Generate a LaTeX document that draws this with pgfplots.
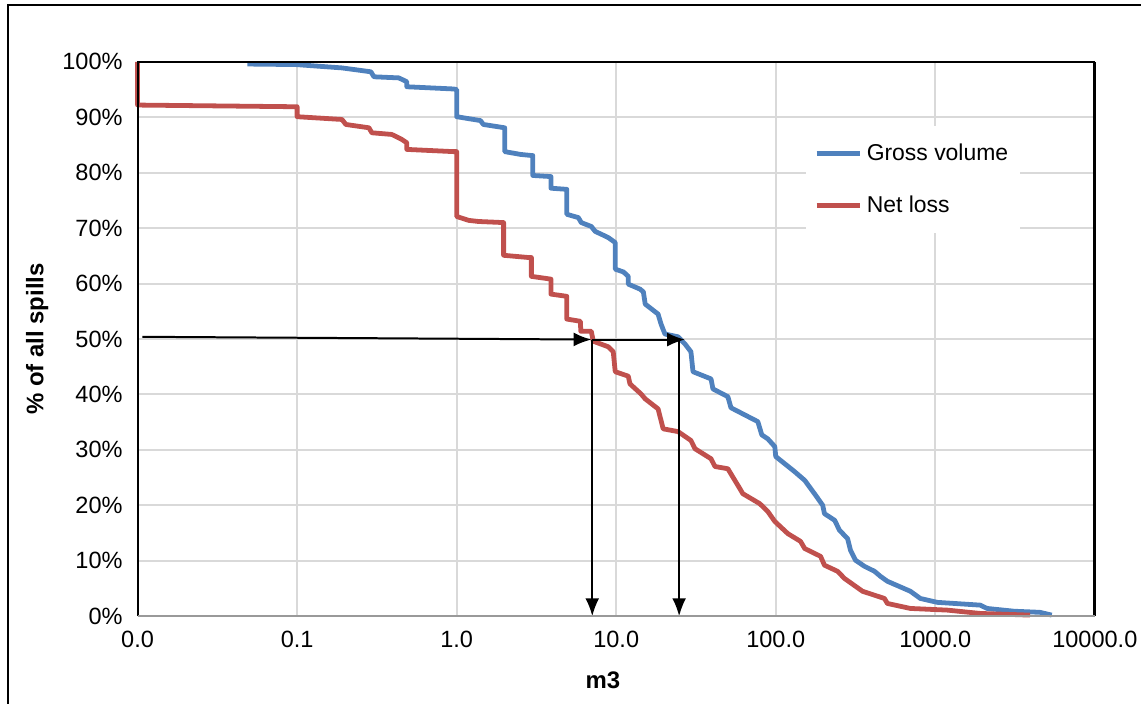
\documentclass[border=0pt]{standalone}
\usepackage{fontspec}
\setmainfont{Liberation Sans}
\usepackage{pgfplots}
\pgfplotsset{compat=1.18}
\usetikzlibrary{arrows.meta}

\definecolor{grossblue}{HTML}{4F81BD}
\definecolor{netred}{HTML}{C0504D}
\definecolor{gridgray}{HTML}{D9D9D9}

\begin{document}
\begin{tikzpicture}
\begin{axis}[
    at={(69pt,44pt)}, anchor=south west,
    scale only axis,
    width=480pt, height=278pt,
    xmode=log,
    xmin=0.01, xmax=10000,
    ymin=0, ymax=100,
    xtick={0.01,0.1,1,10,100,1000,10000},
    xticklabels={0.0,0.1,1.0,10.0,100.0,1000.0,10000.0},
    ytick={0,10,...,100},
    yticklabels={0\%,10\%,20\%,30\%,40\%,50\%,60\%,70\%,80\%,90\%,100\%},
    minor xtick={},
    minor tick num=0,
    major tick length=0pt,
    minor tick length=0pt,
    grid=major,
    major grid style={gridgray, line width=1pt},
    axis line style={draw=none},
    tick label style={font=\fontsize{11.8}{14}\selectfont},
    /pgf/number format/assume math mode=true,
    xticklabel style={anchor=north, yshift=-4pt},
    yticklabel style={anchor=east, xshift=-4pt},
    xlabel={\textbf{m3}},
    ylabel={\textbf{\% of all spills}},
    label style={font=\fontsize{12}{14}\selectfont},
    xlabel style={at={(axis description cs:0.486,-0.115)}, anchor=center},
    ylabel style={at={(axis description cs:-0.105,0.5)}, anchor=center},
    clip=false,
    legend style={at={(rel axis cs:0.698,0.885)}, anchor=north west,
        draw=none, fill=white, font=\fontsize{11.5}{13}\selectfont,
        inner xsep=4pt, inner ysep=7pt, row sep=12pt, cells={anchor=west}},
    legend image code/.code={\draw[#1] (0pt,0pt) -- (22pt,0pt);},
]
% Gross volume
\addplot[grossblue, line width=2.4pt, line join=round] coordinates {
(0.0487,99.6) (0.0986,99.5) (0.191,98.9) (0.290,98.2) (0.303,97.3)
(0.434,97.1) (0.487,96.4) (0.487,95.5) (0.957,95.1) (1.0,95.0) (1.0,90.1)
(1.41,89.4) (1.47,88.7) (2.0,88.1) (2.0,83.8) (2.51,83.3) (2.94,83.1)
(3.0,83.1) (3.0,79.5) (3.9,79.3) (3.9,77.2) (4.9,77.0) (4.9,72.5)
(5.79,71.9) (6.04,71.0) (6.98,70.3) (7.39,69.4) (8.06,68.9) (8.91,68.3)
(9.86,67.4) (9.86,62.6) (11.1,62.1) (11.9,61.3) (11.9,59.9) (14.1,59.0)
(14.8,58.5) (15.2,56.3) (18.3,54.5) (19.1,52.7) (20.2,50.9) (24.4,50.4)
(27.0,49.1) (29.4,47.7) (30.3,44.1) (39.3,42.8) (40.4,41.0) (50.1,39.6)
(52.4,37.6) (77.2,35.1) (81.8,32.7) (89.1,32.0) (98.6,30.6) (100,28.8)
(131,26.1) (152,24.5) (178,21.8) (197,20.0) (202,18.5) (234,17.3)
(251,15.5) (282,14.0) (294,11.9) (316,10.1) (360,9.0) (416,8.1)
(453,7.2) (501,6.3) (698,4.5) (806,3.2) (1029,2.5) (1911,2.0)
(2113,1.4) (3119,0.9) (4529,0.7) (5370,0.2)
};
\addlegendentry{Gross volume}
% Net loss
\addplot[netred, line width=2.4pt, line join=round] coordinates {
(0.01,100) (0.01,92.2) (0.0957,91.9) (0.1,91.9) (0.1,90.1) (0.191,89.6)
(0.202,88.7) (0.282,88.1) (0.294,87.2) (0.392,86.9) (0.453,86.0)
(0.487,85.4) (0.487,84.2) (0.957,83.8) (1.0,83.8) (1.0,72.1) (1.19,71.4)
(1.37,71.2) (1.97,71.0) (1.97,65.1) (2.82,64.7) (2.94,64.7) (2.94,61.3)
(3.9,60.8) (3.9,58.1) (4.9,57.7) (4.9,53.6) (5.96,53.2) (6.0,51.4)
(6.98,51.4) (7.18,49.6) (8.91,48.6) (9.58,47.7) (9.86,44.1) (11.9,43.3)
(12.2,41.9) (14.3,40.1) (15.2,39.2) (18.3,37.4) (19.7,33.8) (24.4,33.3)
(29.4,31.7) (31.2,30.2) (39.3,28.4) (41.6,27.0) (50.1,26.6) (59.6,23.0)
(62.2,22.1) (79.4,20.3) (89.1,18.9) (98.6,17.1) (119,14.9) (143,13.5)
(152,12.2) (191,10.8) (202,9.2) (244,8.1) (270,6.8) (350,4.5)
(480,3.2) (501,2.3) (698,1.4) (1189,1.1) (1911,0.5) (3926,0.2)
};
\addlegendentry{Net loss}
% 50 % read-off arrows
\addplot[black, line width=1pt, -{Latex[length=9pt,width=7pt]}, forget plot]
  coordinates {(0.0107,50.4) (7.0,49.9)};
\addplot[black, line width=1pt, -{Latex[length=9pt,width=7pt]}, forget plot]
  coordinates {(7.08,49.9) (27.0,49.9)};
\addplot[black, line width=1pt, -{Latex[length=9pt,width=7pt]}, forget plot]
  coordinates {(7.08,49.9) (7.08,0)};
\addplot[black, line width=1pt, -{Latex[length=9pt,width=7pt]}, forget plot]
  coordinates {(24.8,49.9) (24.8,0)};
% plot area border
\draw[black, line width=1pt] (rel axis cs:0,0) -- (rel axis cs:0,1) -- (rel axis cs:1,1);
\draw[black, line width=1.4pt] (rel axis cs:1,1) -- (rel axis cs:1,0);
\draw[gray!80, line width=1pt] (rel axis cs:0,0) -- (rel axis cs:1,0);
\end{axis}
% chart frame
\draw[black, line width=1pt] (4pt,0pt) -- (4pt,350.5pt) -- (572pt,350.5pt);
\path[use as bounding box] (0,0) rectangle (572pt,353pt);
\end{tikzpicture}
\end{document}
